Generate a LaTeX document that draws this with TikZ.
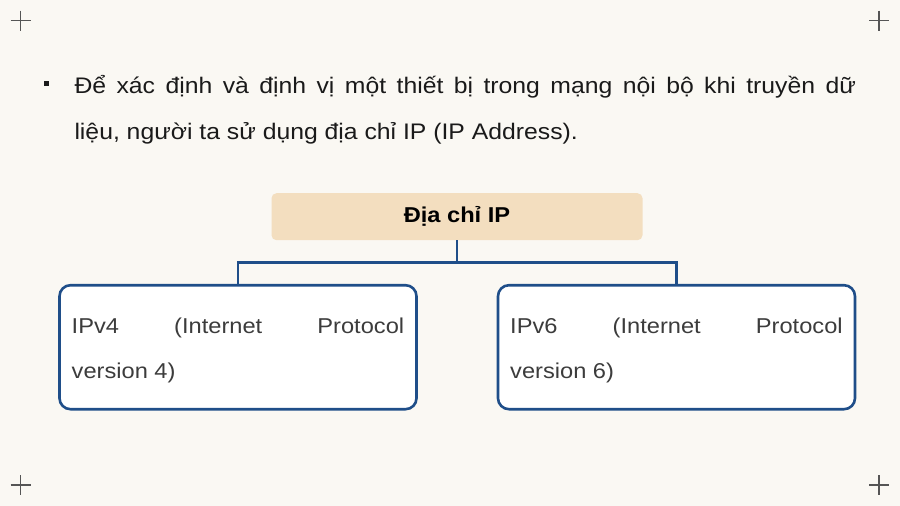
\documentclass[tikz,border=0pt]{standalone}
\usepackage{fontspec}
\setmainfont{Liberation Sans}[FakeStretch=1.10]
\definecolor{bgcol}{HTML}{FAF8F3}
\definecolor{crosscol}{HTML}{555555}
\definecolor{tancol}{HTML}{F3DEBF}
\definecolor{bluecol}{HTML}{1F4E89}
\definecolor{txtcol}{HTML}{1A1A1A}
\definecolor{graytxt}{HTML}{3C3C3C}
\tikzset{
  crossmark/.style={draw=crosscol, line width=1.1pt},
  txt/.style={anchor=base west, inner sep=0pt, outer sep=0pt, font=\fontsize{22.5}{26}\selectfont},
  boxtxt/.style={anchor=base west, inner sep=0pt, outer sep=0pt, font=\fontsize{21.5}{26}\selectfont, text=graytxt},
  titlebox/.style={fill=tancol, rounded corners=5pt, minimum width=371pt, minimum height=47pt, inner sep=0pt, font=\fontsize{21.5}{25}\selectfont\bfseries, text=black},
  ipbox/.style={draw=bluecol, line width=2.6pt, fill=white, rounded corners=11pt, minimum width=357pt, minimum height=124pt, inner sep=0pt},
  link/.style={draw=bluecol, line width=2.9pt}
}
\begin{document}
\begin{tikzpicture}[x=1pt,y=-1pt]
\useasboundingbox (0,0) rectangle (900,506);
\fill[bgcol] (0,0) rectangle (900,506);
% corner crosses
\foreach \cx/\cy in {20.5/20.5, 879/20.5, 20.5/485, 879/485}{
  \draw[crossmark] (\cx-10,\cy) -- (\cx+10,\cy);
  \draw[crossmark] (\cx,\cy-10) -- (\cx,\cy+10);
}
% bullet
\node[fill=txtcol, minimum size=4.6pt, inner sep=0pt] (bul) at (46.3,83.3) {};
\node[txt, text=txtcol] (l1) at (74.5,93) {\makebox[781.5pt][s]{Để xác định và định vị một thiết bị trong mạng nội bộ khi truyền dữ}};
\node[txt, text=txtcol] (l2) at (74.5,139) {liệu, người ta sử dụng địa chỉ IP (IP Address).};
% title
\node[titlebox] (t) at (457,216.7) {Địa chỉ IP};
% boxes
\node[ipbox] (l) at (238,347.2) {};
\node[ipbox] (r) at (676.5,347.2) {};
% connectors
\draw[link] (t.south) -- ++(0,22.5) coordinate (j);
\draw[link] (l.north) |- (j) -| (r.north);
% box texts
\node[boxtxt] (a1) at (71.7,333.5) {\makebox[332.5pt][s]{IPv4\hfill(Internet\hfill Protocol}};
\node[boxtxt] (a2) at (71.7,378.5) {version 4)};
\node[boxtxt] (b1) at (510.2,333.5) {\makebox[332.5pt][s]{IPv6\hfill(Internet\hfill Protocol}};
\node[boxtxt] (b2) at (510.2,378.5) {version 6)};
\end{tikzpicture}
\end{document}
